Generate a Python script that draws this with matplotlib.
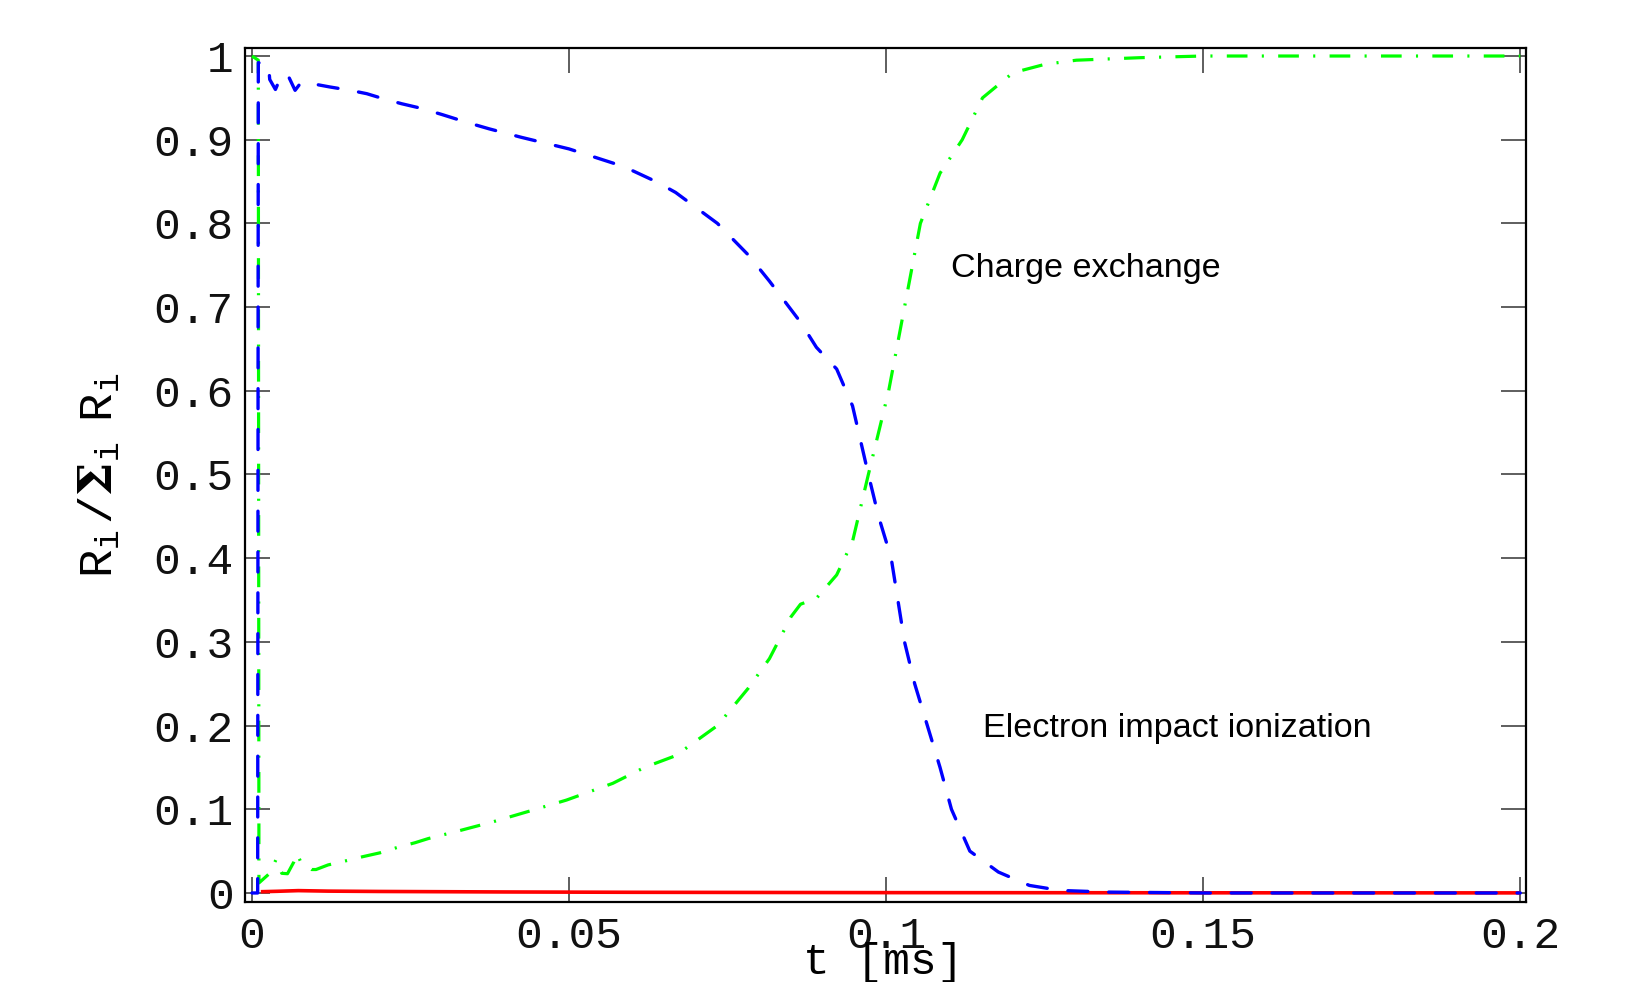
import matplotlib
matplotlib.use("Agg")
import matplotlib.pyplot as plt

# ---- data ----
t_blue = [0, 0.0009, 0.001, 0.0026, 0.0028, 0.0037, 0.0046, 0.0052, 0.0058, 0.0068, 0.0075,
          0.008, 0.0123, 0.0155, 0.0181, 0.0207, 0.0236, 0.0267, 0.03, 0.0342, 0.0374,
          0.0424, 0.05, 0.0586, 0.0637, 0.0668, 0.0734, 0.0783, 0.0816, 0.0865, 0.089,
          0.0922, 0.0947, 0.0972, 0.0988, 0.1008, 0.1029, 0.1045, 0.1065, 0.1085, 0.1103,
          0.1132, 0.1177, 0.1226, 0.1275, 0.1352, 0.15, 0.2]
r_blue = [0, 0, 0.992, 0.99, 0.972, 0.96, 0.976, 0.979, 0.975, 0.959, 0.966,
          0.969, 0.963, 0.959, 0.955, 0.949, 0.943, 0.9375, 0.93, 0.92, 0.913,
          0.903, 0.889, 0.868, 0.85, 0.837, 0.8, 0.762, 0.731, 0.682, 0.652,
          0.626, 0.582, 0.5, 0.45, 0.4, 0.3, 0.25, 0.2, 0.15, 0.1,
          0.05, 0.025, 0.009, 0.003, 0.001, 0.0, 0.0]

t_green = [0, 0.001, 0.0011, 0.0028, 0.0038, 0.0047, 0.0056, 0.0066, 0.0071, 0.0077, 0.0094,
           0.0101, 0.012, 0.0149, 0.0175, 0.0202, 0.023, 0.0257, 0.0278, 0.032, 0.038,
           0.0443, 0.0496, 0.0569, 0.0619, 0.0668, 0.0734, 0.0783, 0.0816, 0.085, 0.0865,
           0.089, 0.0922, 0.0947, 0.0972, 0.0988, 0.1004, 0.1029, 0.1054, 0.1085, 0.112,
           0.1152, 0.12, 0.125, 0.13, 0.14, 0.15, 0.2]
r_green = [1.0, 0.995, 0.012, 0.0235, 0.040, 0.0235, 0.023, 0.037, 0.047, 0.037, 0.028,
           0.028, 0.0335, 0.0386, 0.0434, 0.048, 0.0546, 0.060, 0.065, 0.073, 0.085,
           0.099, 0.111, 0.131, 0.15, 0.164, 0.2, 0.245, 0.28, 0.33, 0.345,
           0.352, 0.38, 0.42, 0.5, 0.55, 0.6, 0.7, 0.8, 0.86, 0.9,
           0.95, 0.98, 0.99, 0.995, 0.998, 1.0, 1.0]

t_red = [0.0014, 0.004, 0.0073, 0.012, 0.02, 0.04, 0.06, 0.1, 0.15, 0.2]
r_red = [0.0015, 0.002, 0.0028, 0.0022, 0.0018, 0.0012, 0.0008, 0.0004, 0.0002, 0.0001]

x_ticks = [0, 0.05, 0.1, 0.15, 0.2]
x_tick_labels = ["0", "0.05", "0.1", "0.15", "0.2"]
y_ticks = [0, 0.1, 0.2, 0.3, 0.4, 0.5, 0.6, 0.7, 0.8, 0.9, 1.0]
y_tick_labels = ["0", "0.1", "0.2", "0.3", "0.4", "0.5", "0.6", "0.7", "0.8", "0.9", "1"]

label_cx = "Charge exchange"
label_ei = "Electron impact ionization"

# ---- style ----
plt.rcParams['lines.scale_dashes'] = False
plt.rcParams['mathtext.fontset'] = 'custom'
plt.rcParams['mathtext.rm'] = 'Liberation Mono'
plt.rcParams['mathtext.it'] = 'Liberation Mono'
plt.rcParams['mathtext.bf'] = 'DejaVu Serif:bold'

fig = plt.figure(figsize=(16.30, 9.82), dpi=100)
ax = fig.add_axes([0.1503, 0.0818, 0.7859, 0.8690])

ax.plot(t_red, r_red, color='#ff0000', lw=2.6, solid_capstyle='butt', zorder=2)
ax.plot(t_green, r_green, color='#00ff00', lw=2.3, dashes=[14.9, 10.3, 1.5, 10.3],
        dash_capstyle='butt', zorder=3)
ax.plot(t_blue, r_blue, color='#0000ff', lw=2.4, dashes=[14.4, 15.0],
        dash_capstyle='round', zorder=4)

ax.set_xlim(-0.0011, 0.2009)
ax.set_ylim(-0.0104, 1.0092)

mono = 'Liberation Mono'
ax.set_xticks(x_ticks)
ax.set_xticklabels(x_tick_labels, fontfamily=mono, fontsize=32)
ax.set_yticks(y_ticks)
ax.set_yticklabels(y_tick_labels, fontfamily=mono, fontsize=32)
ax.tick_params(direction='in', length=18, width=1.1, color='#333333',
               top=True, right=True, pad=8, labelcolor='#111111')
ax.tick_params(axis='x', pad=10)

for s in ax.spines.values():
    s.set_linewidth(1.6)
    s.set_color('black')

ax.set_xlabel("t [ms]", fontfamily=mono, fontsize=32)
ax.xaxis.set_label_coords(0.498, -0.071)
ax.xaxis.label.set_va('center')

ax.set_ylabel(r"$\mathrm{R}_\mathrm{i}\,/\mathbf{\Sigma}_\mathrm{i}\ \ \mathrm{R}_\mathrm{i}$",
              fontsize=34)
ax.yaxis.set_label_coords(-0.113, 0.5)
ax.yaxis.label.set_va('center')

ax.text(0.1103, 0.7356, label_cx, fontfamily='Liberation Sans', fontsize=24.6,
        va='baseline', ha='left')
ax.text(0.1152, 0.1867, label_ei, fontfamily='Liberation Sans', fontsize=24.6,
        va='baseline', ha='left')

fig.savefig("out.png", dpi=100)
